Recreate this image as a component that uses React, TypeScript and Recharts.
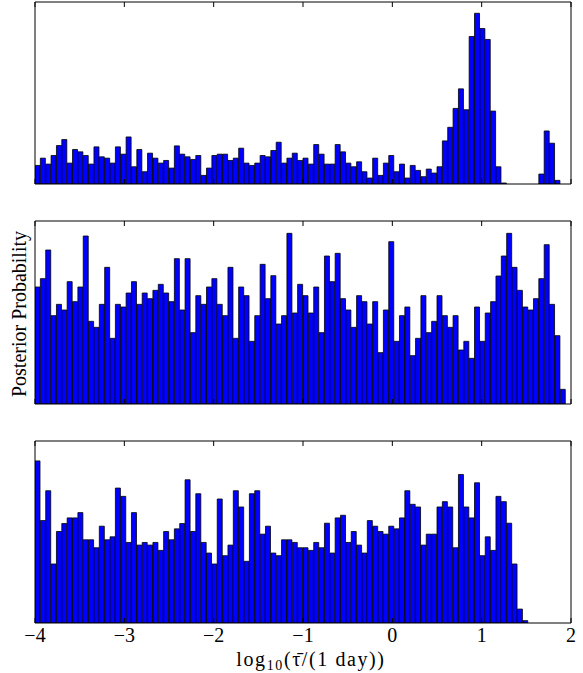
import { BarChart, Bar, XAxis, YAxis } from 'recharts'

// 100 bins of width 0.06 over log10(tau/day) in [-4, 2]
const BIN_START = -4
const BIN_WIDTH = 0.06
const N_BINS = 100
const X_TICKS = [-4, -3, -2, -1, 0, 1, 2]

// bar heights (arbitrary units, same scale in every panel)
const topPanel = [
  56, 78, 60, 86, 116, 134, 63, 104, 97, 86,
  60, 112, 82, 78, 63, 112, 90, 142, 52, 104,
  37, 93, 78, 63, 71, 48, 115, 90, 82, 74,
  86, 26, 48, 86, 90, 90, 71, 78, 108, 63,
  56, 63, 86, 82, 101, 126, 63, 78, 93, 71,
  78, 60, 119, 90, 60, 60, 119, 97, 63, 52,
  67, 37, 18, 78, 26, 63, 86, 37, 60, 18,
  56, 41, 22, 45, 33, 52, 130, 171, 228, 287,
  224, 445, 515, 469, 436, 220, 52, 3, 0, 0,
  0, 0, 0, 0, 30, 160, 123, 11, 0, 0,
]

const middlePanel = [
  351, 376, 462, 265, 299, 282, 367, 307, 351, 504,
  248, 230, 299, 410, 197, 299, 291, 333, 367, 299,
  333, 316, 341, 359, 333, 307, 436, 282, 436, 214,
  325, 299, 351, 376, 299, 265, 410, 197, 351, 325,
  188, 265, 419, 316, 385, 240, 265, 512, 273, 359,
  325, 273, 351, 214, 444, 367, 452, 316, 282, 230,
  325, 307, 240, 307, 154, 282, 487, 188, 265, 291,
  145, 197, 325, 214, 248, 325, 265, 230, 265, 162,
  188, 137, 291, 188, 273, 307, 384, 444, 512, 410,
  341, 291, 282, 316, 376, 478, 299, 205, 44, 0,
]

const bottomPanel = [
  489, 309, 399, 178, 276, 300, 317, 317, 333, 251,
  251, 227, 292, 251, 260, 407, 382, 243, 333, 235,
  243, 235, 243, 219, 276, 251, 284, 300, 432, 276,
  390, 243, 211, 178, 374, 203, 235, 399, 350, 186,
  390, 399, 268, 292, 211, 203, 251, 251, 243, 227,
  227, 219, 243, 227, 301, 211, 317, 325, 243, 276,
  235, 211, 309, 292, 276, 268, 292, 284, 317, 399,
  358, 350, 235, 268, 268, 350, 366, 350, 227, 448,
  350, 317, 423, 203, 260, 219, 382, 366, 301, 178,
  42, 7, 0, 0, 0, 0, 0, 0, 0, 0,
]

const binCenters = Array.from({ length: N_BINS }, (_, i) => BIN_START + BIN_WIDTH * (i + 0.5))

const serif = '"Liberation Serif", "DejaVu Serif", serif'

function fmtTick(v: number) {
  return v < 0 ? `\u2212${Math.abs(v)}` : `${v}`
}

// keeps the tick marks but draws no number
const NoLabel = () => <g />

interface PanelProps {
  values: number[]
  top: number
  height: number
  marginTop: number
  marginBottom: number
  showLabels?: boolean
}

// axes need a non-zero size to be drawn, so they get 1px and the margins shrink by 1
function Panel({ values, top, height, marginTop, marginBottom, showLabels }: PanelProps) {
  const data = binCenters.map((x, i) => ({ x, v: values[i] }))
  return (
    <div style={{ position: 'absolute', left: 0, top }}>
      <BarChart
        width={583}
        height={height}
        data={data}
        margin={{ top: marginTop - 1, right: 11, bottom: marginBottom - 1, left: 34 }}
        barCategoryGap={0}
        barGap={0}
      >
        <XAxis
          dataKey="x"
          type="number"
          domain={[-4, 2]}
          ticks={X_TICKS}
          interval={0}
          allowDataOverflow
          height={1}
          tickSize={-5}
          tickMargin={10}
          axisLine={{ stroke: '#000' }}
          tickLine={{ stroke: '#000' }}
          tick={showLabels ? { fill: '#000', fontSize: 20, fontFamily: serif } : NoLabel}
          tickFormatter={fmtTick}
        />
        <XAxis
          xAxisId="top"
          orientation="top"
          dataKey="x"
          type="number"
          domain={[-4, 2]}
          ticks={X_TICKS}
          interval={0}
          allowDataOverflow
          height={1}
          tickSize={-5}
          axisLine={{ stroke: '#000' }}
          tickLine={{ stroke: '#000' }}
          tick={NoLabel}
        />
        <YAxis domain={[0, 549]} allowDataOverflow width={1} tick={false} tickLine={false} axisLine={{ stroke: '#000' }} />
        <YAxis
          yAxisId="right"
          orientation="right"
          domain={[0, 1]}
          width={1}
          tick={false}
          tickLine={false}
          axisLine={{ stroke: '#000' }}
        />
        <Bar dataKey="v" fill="#0000ff" stroke="#000" strokeWidth={0.8} isAnimationActive={false} />
      </BarChart>
    </div>
  )
}

export default function App() {
  return (
    <div style={{ position: 'absolute', left: 0, top: 0, width: 583, height: 673, background: '#fff', fontFamily: serif }}>
      <Panel values={topPanel} top={0} height={190} marginTop={2} marginBottom={6} />
      <Panel values={middlePanel} top={215} height={195} marginTop={6} marginBottom={6} />
      <Panel values={bottomPanel} top={435} height={238} marginTop={6} marginBottom={50} showLabels />
      <div
        style={{
          position: 'absolute',
          left: -101,
          top: 302,
          width: 240,
          height: 24,
          lineHeight: '24px',
          textAlign: 'center',
          fontSize: 20,
          color: '#000',
          transform: 'rotate(-90deg)',
        }}
      >
        Posterior Probability
      </div>
      <div
        style={{
          position: 'absolute',
          left: 161,
          top: 649,
          width: 300,
          lineHeight: '20px',
          textAlign: 'center',
          fontSize: 20,
          letterSpacing: 1.6,
          color: '#000',
          whiteSpace: 'nowrap',
        }}
      >
        log<sub style={{ fontSize: 14, verticalAlign: '-4px', lineHeight: 0 }}>10</sub>(τ̄/(1 day))
      </div>
    </div>
  )
}
